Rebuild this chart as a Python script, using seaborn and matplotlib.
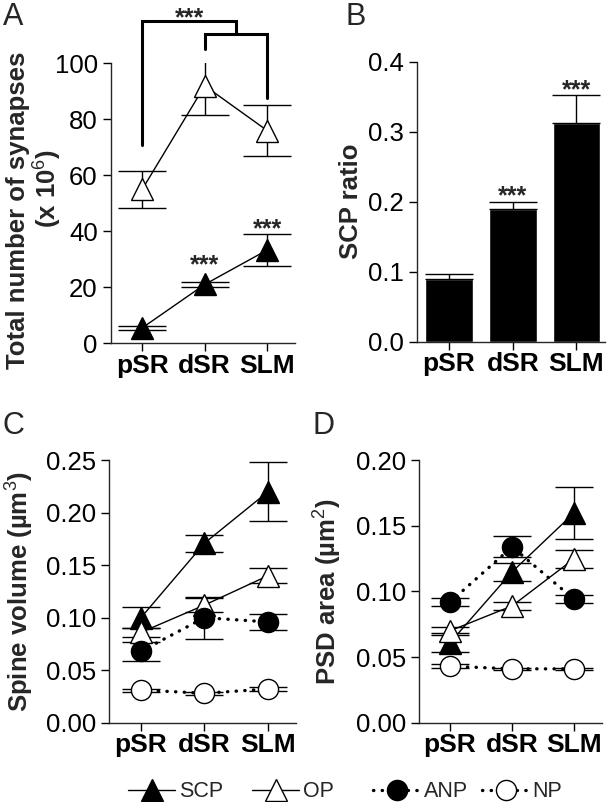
import numpy as np
import matplotlib
matplotlib.use('Agg')
import matplotlib.pyplot as plt
import seaborn as sns
from matplotlib.lines import Line2D

regions = ['pSR', 'dSR', 'SLM']
groups = ['SCP', 'OP', 'ANP', 'NP']

# A: total number of synapses (x 10^6)
syn_scp = [5.5, 21.0, 33.3]
syn_scp_err = [0.8, 1.0, 5.8]
syn_op = [55.0, 92.0, 76.0]
syn_op_err = [6.7, 10.5, 9.0]

# B: SCP ratio
scp_ratio = [0.090, 0.190, 0.313]
scp_ratio_err = [0.006, 0.010, 0.039]

# C: spine volume (um^3)
vol_scp = [0.100, 0.171, 0.220]
vol_scp_err = [0.010, 0.008, 0.028]
vol_op = [0.086, 0.112, 0.140]
vol_op_err = [0.004, 0.007, 0.007]
vol_anp = [0.068, 0.100, 0.096]
vol_anp_err = [0.009, 0.020, 0.008]
vol_np = [0.031, 0.028, 0.032]
vol_np_err = [0.0015, 0.0015, 0.0015]

# D: PSD area (um^2)
psd_scp = [0.061, 0.115, 0.160]
psd_scp_err = [0.007, 0.007, 0.020]
psd_op = [0.070, 0.089, 0.125]
psd_op_err = [0.003, 0.003, 0.007]
psd_anp = [0.092, 0.134, 0.094]
psd_anp_err = [0.003, 0.008, 0.003]
psd_np = [0.043, 0.041, 0.041]
psd_np_err = [0.0015, 0.001, 0.001]

sns.set_style('ticks')
plt.rcParams['font.family'] = ['Liberation Sans', 'DejaVu Sans']
plt.rcParams['mathtext.fontset'] = 'custom'
plt.rcParams['mathtext.rm'] = 'Liberation Sans'
plt.rcParams['mathtext.bf'] = 'Liberation Sans:bold'
plt.rcParams['axes.linewidth'] = 1.0

xs = np.arange(len(regions))
dot = (0, (0.1, 2.5))

# marker, face colour, linestyle, marker size
styles = {
    'SCP': ('^', 'k', '-', 15.5),
    'OP': ('^', 'w', '-', 15.5),
    'ANP': ('o', 'k', dot, 14.5),
    'NP': ('o', 'w', dot, 14.5),
}


def series(ax, name, vals, err, cap=14, grow=0):
    m, fc, ls, ms = styles[name]
    ax.errorbar(xs, vals, yerr=err, fmt='none', ecolor='k', elinewidth=1,
                capsize=cap, capthick=1, zorder=2)
    lw = 2.4 if ls is dot else 1.0
    sns.lineplot(x=xs, y=vals, ax=ax, color='k', lw=lw, linestyle=ls,
                 dash_capstyle='round',
                 marker=m, markersize=ms + grow, markerfacecolor=fc,
                 markeredgecolor='k', markeredgewidth=1, zorder=3)


def style_ax(ax, ylim, yticks, fmt, ylabel, lx, ly=0.5):
    sns.despine(ax=ax)
    ax.set_xlim(-0.5, 2.45)
    ax.set_ylim(*ylim)
    ax.set_yticks(yticks)
    ax.set_yticklabels([fmt.format(v) for v in yticks], fontsize=18.5)
    ax.set_xticks(xs)
    ax.set_xticklabels(regions, fontsize=19, fontweight='bold')
    ax.tick_params(direction='out', length=6, width=1, colors='k')
    ax.tick_params(axis='x', pad=1.5)
    ax.tick_params(axis='y', pad=3.5)
    ax.set_ylabel(ylabel, fontsize=18.5, fontweight='bold')
    ax.yaxis.set_label_coords(lx, ly)
    ax.set_xlabel('')


fig = plt.figure(figsize=(6.1, 8.02), dpi=100)
star = dict(ha='center', va='baseline', fontsize=18, fontweight='bold')

# ---- A
axA = fig.add_axes([0.182, 0.572, 0.302, 0.349])
series(axA, 'OP', syn_op, syn_op_err, cap=17, grow=1)
series(axA, 'SCP', syn_scp, syn_scp_err, cap=17, grow=1)
style_ax(axA, (0, 100), [0, 20, 40, 60, 80, 100], '{:.0f}',
         'Total number of synapses', -0.44, 0.475)
axA.text(-0.262, 0.554, '(x 10$^6$)', transform=axA.transAxes, rotation=90,
         ha='right', va='center', fontsize=18.5, fontweight='bold')
# comparison brackets
bk = dict(color='k', lw=2.2, clip_on=False, solid_joinstyle='miter')
axA.plot([0, 0, 1.5, 1.5], [71, 115, 115, 110.6], **bk)
axA.plot([1, 1, 2, 2], [105, 110.6, 110.6, 87.5], **bk)
axA.text(0.75, 113.5, '***', clip_on=False, **star)
axA.text(1, syn_scp[1] + syn_scp_err[1] + 3.4, '***', **star)
axA.text(2, syn_scp[2] + syn_scp_err[2] - 1.0, '***', **star)

# ---- B
axB = fig.add_axes([0.684, 0.574, 0.308, 0.349])
sns.barplot(x=xs, y=scp_ratio, color='k', saturation=1, width=0.75, ax=axB,
            native_scale=True)
axB.errorbar(xs, scp_ratio, yerr=[np.zeros(3), scp_ratio_err], fmt='none',
             ecolor='k', elinewidth=1, capsize=17, capthick=1)
style_ax(axB, (0, 0.4), [0, 0.1, 0.2, 0.3, 0.4], '{:.1f}', 'SCP ratio', -0.287)
for i in [1, 2]:
    axB.text(i, scp_ratio[i] + scp_ratio_err[i] - 0.003, '***', **star)

# ---- C
axC = fig.add_axes([0.179, 0.099, 0.307, 0.327])
series(axC, 'SCP', vol_scp, vol_scp_err)
series(axC, 'OP', vol_op, vol_op_err)
series(axC, 'ANP', vol_anp, vol_anp_err)
series(axC, 'NP', vol_np, vol_np_err)
style_ax(axC, (0, 0.25), [0, 0.05, 0.10, 0.15, 0.20, 0.25], '{:.2f}',
         'Spine volume (µm$^3$)', -0.396)

# ---- D
axD = fig.add_axes([0.687, 0.099, 0.30, 0.327])
series(axD, 'ANP', psd_anp, psd_anp_err)
series(axD, 'SCP', psd_scp, psd_scp_err)
series(axD, 'OP', psd_op, psd_op_err)
series(axD, 'NP', psd_np, psd_np_err)
style_ax(axD, (0, 0.20), [0, 0.05, 0.10, 0.15, 0.20], '{:.2f}',
         'PSD area (µm$^2$)', -0.415)

# panel letters
for lab, x, y in [('A', 0.004, 0.998), ('B', 0.566, 0.998),
                  ('C', 0.004, 0.4875), ('D', 0.513, 0.4875)]:
    fig.text(x, y, lab, fontsize=22, ha='left', va='top')

# legend: one entry each, placed along the bottom
leg_x = [128, 252, 373, 482]
for name, lx in zip(groups, leg_x):
    m, fc, ls, ms = styles[name]
    h = Line2D([], [], color='k', marker=m, markerfacecolor=fc,
               markeredgecolor='k', markersize=ms, dash_capstyle='round',
               linestyle=ls, lw=2.4 if ls is dot else 1.0)
    fig.legend([h], [name], loc='center left',
               bbox_to_anchor=(lx / 610, 0.0125), frameon=False,
               fontsize=15.5, handlelength=2.2, handletextpad=0.15,
               borderpad=0, borderaxespad=0)

fig.savefig('out.png', dpi=100)
